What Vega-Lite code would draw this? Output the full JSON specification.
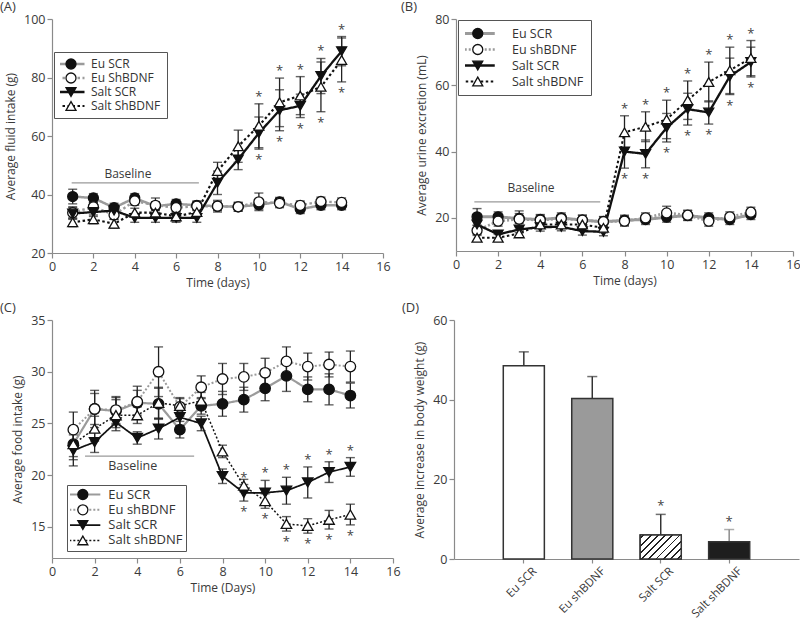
{
"$schema": "https://vega.github.io/schema/vega-lite/v6.json",
"padding": {"left": 0, "top": 1, "right": 0, "bottom": 0},
"background": "white",
"config": {
  "font": "Open Sans",
  "view": {"stroke": null},
  "axis": {"grid": false, "domainColor": "#8a8a8a", "tickColor": "#8a8a8a", "domainWidth": 1.2, "tickWidth": 1.2, "tickSize": 5, "labelColor": "#3a3a3a", "titleColor": "#3a3a3a", "labelFontSize": 12.5, "titleFontSize": 12, "titleFontWeight": "normal", "labelPadding": 2, "titlePadding": 5, "labelFont": "Open Sans", "titleFont": "Open Sans", "labelFlush": false, "labelOverlap": false},
  "axisY": {"titlePadding": 6},
  "title": {"fontSize": 13, "fontWeight": "normal", "color": "#3a3a3a", "anchor": "start", "frame": "group", "font": "Open Sans"},
  "legend": {"labelFont": "Open Sans", "labelColor": "#333333"}
},
"datasets": {
  "A": [
    {"d":1,"g":"Eu SCR","m":39.3,"lo":36.8,"hi":41.8},{"d":2,"g":"Eu SCR","m":38.8,"lo":37.3,"hi":40.3},{"d":3,"g":"Eu SCR","m":35.5,"lo":34,"hi":37},{"d":4,"g":"Eu SCR","m":38.8,"lo":37.3,"hi":40.3},{"d":5,"g":"Eu SCR","m":36,"lo":34.5,"hi":37.5},{"d":6,"g":"Eu SCR","m":36.8,"lo":35.3,"hi":38.3},{"d":7,"g":"Eu SCR","m":36.3,"lo":34.8,"hi":37.8},{"d":8,"g":"Eu SCR","m":36,"lo":34.5,"hi":37.5},{"d":9,"g":"Eu SCR","m":35.8,"lo":34.3,"hi":37.3},{"d":10,"g":"Eu SCR","m":36.5,"lo":35,"hi":38},{"d":11,"g":"Eu SCR","m":37.5,"lo":36,"hi":39},{"d":12,"g":"Eu SCR","m":35,"lo":33.5,"hi":36.5},{"d":13,"g":"Eu SCR","m":36.3,"lo":34.8,"hi":37.8},{"d":14,"g":"Eu SCR","m":36.3,"lo":34.8,"hi":37.8},
    {"d":1,"g":"Eu ShBDNF","m":33.8,"lo":31.8,"hi":35.8},{"d":2,"g":"Eu ShBDNF","m":35.8,"lo":34.3,"hi":37.3},{"d":3,"g":"Eu ShBDNF","m":33,"lo":31.5,"hi":34.5},{"d":4,"g":"Eu ShBDNF","m":37.8,"lo":36.3,"hi":39.3},{"d":5,"g":"Eu ShBDNF","m":36.3,"lo":33.8,"hi":38.8},{"d":6,"g":"Eu ShBDNF","m":35.5,"lo":34,"hi":37},{"d":7,"g":"Eu ShBDNF","m":36,"lo":34.5,"hi":37.5},{"d":8,"g":"Eu ShBDNF","m":36,"lo":34,"hi":38},{"d":9,"g":"Eu ShBDNF","m":35.8,"lo":34.3,"hi":37.3},{"d":10,"g":"Eu ShBDNF","m":37.5,"lo":34.5,"hi":40.5},{"d":11,"g":"Eu ShBDNF","m":37,"lo":35.5,"hi":38.5},{"d":12,"g":"Eu ShBDNF","m":36.3,"lo":34.8,"hi":37.8},{"d":13,"g":"Eu ShBDNF","m":37.6,"lo":36.1,"hi":39.1},{"d":14,"g":"Eu ShBDNF","m":37.3,"lo":35.8,"hi":38.8},
    {"d":1,"g":"Salt SCR","m":33.5,"lo":31.5,"hi":35.5},{"d":2,"g":"Salt SCR","m":34,"lo":32.5,"hi":35.5},{"d":3,"g":"Salt SCR","m":34.5,"lo":33,"hi":36},{"d":4,"g":"Salt SCR","m":32,"lo":30.5,"hi":33.5},{"d":5,"g":"Salt SCR","m":32,"lo":30.5,"hi":33.5},{"d":6,"g":"Salt SCR","m":32,"lo":30.5,"hi":33.5},{"d":7,"g":"Salt SCR","m":32,"lo":30.5,"hi":33.5},{"d":8,"g":"Salt SCR","m":44,"lo":40,"hi":48},{"d":9,"g":"Salt SCR","m":52,"lo":48.5,"hi":55.5},{"d":10,"g":"Salt SCR","m":61,"lo":55.5,"hi":66.5,"dn":1},{"d":11,"g":"Salt SCR","m":68.8,"lo":61.8,"hi":75.8,"dn":1},{"d":12,"g":"Salt SCR","m":70.3,"lo":66.3,"hi":74.3,"dn":1},{"d":13,"g":"Salt SCR","m":80.5,"lo":74.5,"hi":86.5,"up":1},{"d":14,"g":"Salt SCR","m":89,"lo":84,"hi":94,"up":1},
    {"d":1,"g":"Salt ShBDNF","m":30.5,"lo":29,"hi":32},{"d":2,"g":"Salt ShBDNF","m":31.5,"lo":30,"hi":33},{"d":3,"g":"Salt ShBDNF","m":30,"lo":28.5,"hi":31.5},{"d":4,"g":"Salt ShBDNF","m":33.8,"lo":32.3,"hi":35.3},{"d":5,"g":"Salt ShBDNF","m":33.8,"lo":32.3,"hi":35.3},{"d":6,"g":"Salt ShBDNF","m":32.5,"lo":31,"hi":34},{"d":7,"g":"Salt ShBDNF","m":34,"lo":32.5,"hi":35.5},{"d":8,"g":"Salt ShBDNF","m":48,"lo":45,"hi":51},{"d":9,"g":"Salt ShBDNF","m":56.5,"lo":51,"hi":62},{"d":10,"g":"Salt ShBDNF","m":63.5,"lo":56,"hi":71,"up":1},{"d":11,"g":"Salt ShBDNF","m":71.5,"lo":63.2,"hi":79.8,"up":1},{"d":12,"g":"Salt ShBDNF","m":73.8,"lo":67.3,"hi":80.3,"up":1},{"d":13,"g":"Salt ShBDNF","m":76.8,"lo":68.3,"hi":85.3,"dn":1},{"d":14,"g":"Salt ShBDNF","m":86,"lo":78.5,"hi":93.5,"dn":1}
  ],
  "B": [
    {"d":1,"g":"Eu SCR","m":20.3,"lo":17.8,"hi":22.8},{"d":2,"g":"Eu SCR","m":20.3,"lo":18.8,"hi":21.8},{"d":3,"g":"Eu SCR","m":19.8,"lo":18.3,"hi":21.3},{"d":4,"g":"Eu SCR","m":19.5,"lo":18,"hi":21},{"d":5,"g":"Eu SCR","m":20,"lo":18.5,"hi":21.5},{"d":6,"g":"Eu SCR","m":19.3,"lo":17.8,"hi":20.8},{"d":7,"g":"Eu SCR","m":18.8,"lo":17.3,"hi":20.3},{"d":8,"g":"Eu SCR","m":19.3,"lo":17.8,"hi":20.8},{"d":9,"g":"Eu SCR","m":19.5,"lo":18,"hi":21},{"d":10,"g":"Eu SCR","m":20.2,"lo":18.7,"hi":21.7},{"d":11,"g":"Eu SCR","m":20.7,"lo":19.2,"hi":22.2},{"d":12,"g":"Eu SCR","m":20,"lo":18.5,"hi":21.5},{"d":13,"g":"Eu SCR","m":19.5,"lo":18,"hi":21},{"d":14,"g":"Eu SCR","m":21,"lo":19.5,"hi":22.5},
    {"d":1,"g":"Eu shBDNF","m":16.2,"lo":14.7,"hi":17.7},{"d":2,"g":"Eu shBDNF","m":19,"lo":17.5,"hi":20.5},{"d":3,"g":"Eu shBDNF","m":19.6,"lo":17.1,"hi":22.1},{"d":4,"g":"Eu shBDNF","m":19.3,"lo":17.8,"hi":20.8},{"d":5,"g":"Eu shBDNF","m":19.8,"lo":18.6,"hi":21},{"d":6,"g":"Eu shBDNF","m":19.3,"lo":17.8,"hi":20.8},{"d":7,"g":"Eu shBDNF","m":18.9,"lo":17.4,"hi":20.4},{"d":8,"g":"Eu shBDNF","m":19,"lo":17.5,"hi":20.5},{"d":9,"g":"Eu shBDNF","m":20,"lo":18.5,"hi":21.5},{"d":10,"g":"Eu shBDNF","m":21.5,"lo":19.5,"hi":23.5},{"d":11,"g":"Eu shBDNF","m":20.8,"lo":19.3,"hi":22.3},{"d":12,"g":"Eu shBDNF","m":19,"lo":17.5,"hi":20.5},{"d":13,"g":"Eu shBDNF","m":20.3,"lo":18.8,"hi":21.8},{"d":14,"g":"Eu shBDNF","m":21.7,"lo":20.2,"hi":23.2},
    {"d":1,"g":"Salt SCR","m":18,"lo":16.5,"hi":19.5},{"d":2,"g":"Salt SCR","m":15,"lo":14,"hi":16},{"d":3,"g":"Salt SCR","m":16.5,"lo":15.5,"hi":17.5},{"d":4,"g":"Salt SCR","m":17.2,"lo":16,"hi":18.4},{"d":5,"g":"Salt SCR","m":17.3,"lo":16.1,"hi":18.5},{"d":6,"g":"Salt SCR","m":16,"lo":14.8,"hi":17.2},{"d":7,"g":"Salt SCR","m":15.8,"lo":14.6,"hi":17},{"d":8,"g":"Salt SCR","m":40,"lo":35,"hi":45,"dn":1},{"d":9,"g":"Salt SCR","m":39.3,"lo":35.1,"hi":43.5,"dn":1},{"d":10,"g":"Salt SCR","m":47.2,"lo":42.9,"hi":51.5,"dn":1},{"d":11,"g":"Salt SCR","m":52.8,"lo":48,"hi":57.6,"dn":1},{"d":12,"g":"Salt SCR","m":51.8,"lo":48.3,"hi":55.3,"dn":1},{"d":13,"g":"Salt SCR","m":62.7,"lo":57.2,"hi":68.2,"dn":1},{"d":14,"g":"Salt SCR","m":67,"lo":62.5,"hi":71.5,"dn":1},
    {"d":1,"g":"Salt shBDNF","m":14,"lo":13,"hi":15},{"d":2,"g":"Salt shBDNF","m":14,"lo":13,"hi":15},{"d":3,"g":"Salt shBDNF","m":15.3,"lo":14.3,"hi":16.3},{"d":4,"g":"Salt shBDNF","m":18,"lo":17,"hi":19},{"d":5,"g":"Salt shBDNF","m":18,"lo":17,"hi":19},{"d":6,"g":"Salt shBDNF","m":18,"lo":17,"hi":19},{"d":7,"g":"Salt shBDNF","m":17,"lo":15.5,"hi":18.5},{"d":8,"g":"Salt shBDNF","m":45.8,"lo":40.8,"hi":50.8,"up":1},{"d":9,"g":"Salt shBDNF","m":47.5,"lo":43,"hi":52,"up":1},{"d":10,"g":"Salt shBDNF","m":49.7,"lo":43.9,"hi":55.5,"up":1},{"d":11,"g":"Salt shBDNF","m":55.5,"lo":49.7,"hi":61.3,"up":1},{"d":12,"g":"Salt shBDNF","m":61,"lo":55,"hi":67,"up":1},{"d":13,"g":"Salt shBDNF","m":64.5,"lo":57.5,"hi":71.5,"up":1},{"d":14,"g":"Salt shBDNF","m":68.2,"lo":62.9,"hi":73.5,"up":1}
  ],
  "C": [
    {"d":1,"g":"Eu SCR","m":23,"lo":21.5,"hi":24.5},{"d":2,"g":"Eu SCR","m":26.4,"lo":24.9,"hi":27.9},{"d":3,"g":"Eu SCR","m":26.2,"lo":24.9,"hi":27.5},{"d":4,"g":"Eu SCR","m":27,"lo":25.8,"hi":28.2},{"d":5,"g":"Eu SCR","m":26.9,"lo":25.4,"hi":28.4},{"d":6,"g":"Eu SCR","m":24.4,"lo":23.6,"hi":25.2},{"d":7,"g":"Eu SCR","m":26.7,"lo":25.9,"hi":27.5},{"d":8,"g":"Eu SCR","m":26.9,"lo":25.7,"hi":28.1},{"d":9,"g":"Eu SCR","m":27.3,"lo":26.1,"hi":28.5},{"d":10,"g":"Eu SCR","m":28.4,"lo":27.2,"hi":29.6},{"d":11,"g":"Eu SCR","m":29.6,"lo":28.1,"hi":31.1},{"d":12,"g":"Eu SCR","m":28.3,"lo":27.1,"hi":29.5},{"d":13,"g":"Eu SCR","m":28.3,"lo":26.8,"hi":29.8},{"d":14,"g":"Eu SCR","m":27.7,"lo":26.5,"hi":28.9},
    {"d":1,"g":"Eu shBDNF","m":24.4,"lo":22.7,"hi":26.1},{"d":2,"g":"Eu shBDNF","m":26.4,"lo":24.6,"hi":28.2},{"d":3,"g":"Eu shBDNF","m":26.3,"lo":25,"hi":27.6},{"d":4,"g":"Eu shBDNF","m":27.1,"lo":25.6,"hi":28.6},{"d":5,"g":"Eu shBDNF","m":30,"lo":27.6,"hi":32.4},{"d":6,"g":"Eu shBDNF","m":26.6,"lo":25.7,"hi":27.5},{"d":7,"g":"Eu shBDNF","m":28.5,"lo":27.4,"hi":29.6},{"d":8,"g":"Eu shBDNF","m":29.3,"lo":27.8,"hi":30.8},{"d":9,"g":"Eu shBDNF","m":29.5,"lo":28.2,"hi":30.8},{"d":10,"g":"Eu shBDNF","m":29.9,"lo":28.5,"hi":31.3},{"d":11,"g":"Eu shBDNF","m":31,"lo":29.6,"hi":32.4},{"d":12,"g":"Eu shBDNF","m":30.5,"lo":29.2,"hi":31.8},{"d":13,"g":"Eu shBDNF","m":30.7,"lo":29.5,"hi":31.9},{"d":14,"g":"Eu shBDNF","m":30.5,"lo":29,"hi":32},
    {"d":1,"g":"Salt SCR","m":22.4,"lo":20.9,"hi":23.9},{"d":2,"g":"Salt SCR","m":23.2,"lo":22.2,"hi":24.2},{"d":3,"g":"Salt SCR","m":25.1,"lo":24.6,"hi":25.6},{"d":4,"g":"Salt SCR","m":23.6,"lo":23,"hi":24.2},{"d":5,"g":"Salt SCR","m":24.5,"lo":23.5,"hi":25.5},{"d":6,"g":"Salt SCR","m":25.6,"lo":24.8,"hi":26.4},{"d":7,"g":"Salt SCR","m":25,"lo":24.3,"hi":25.7},{"d":8,"g":"Salt SCR","m":19.9,"lo":19.2,"hi":20.6},{"d":9,"g":"Salt SCR","m":18.3,"lo":17.5,"hi":19.1,"up":1,"dn":1},{"d":10,"g":"Salt SCR","m":18.3,"lo":17.1,"hi":19.5,"up":1},{"d":11,"g":"Salt SCR","m":18.5,"lo":17.2,"hi":19.8,"up":1},{"d":12,"g":"Salt SCR","m":19.3,"lo":17.8,"hi":20.8,"up":1},{"d":13,"g":"Salt SCR","m":20.3,"lo":19.3,"hi":21.3,"up":1},{"d":14,"g":"Salt SCR","m":20.8,"lo":19.9,"hi":21.7,"up":1},
    {"d":1,"g":"Salt shBDNF","m":23,"lo":21.8,"hi":24.2},{"d":2,"g":"Salt shBDNF","m":24.5,"lo":23.3,"hi":25.7},{"d":3,"g":"Salt shBDNF","m":25.8,"lo":24.3,"hi":27.3},{"d":4,"g":"Salt shBDNF","m":25.8,"lo":25,"hi":26.6},{"d":5,"g":"Salt shBDNF","m":27,"lo":25.5,"hi":28.5},{"d":6,"g":"Salt shBDNF","m":26.7,"lo":26,"hi":27.4},{"d":7,"g":"Salt shBDNF","m":27.2,"lo":26.4,"hi":28},{"d":8,"g":"Salt shBDNF","m":22.3,"lo":21.7,"hi":22.9},{"d":9,"g":"Salt shBDNF","m":19,"lo":18.4,"hi":19.6},{"d":10,"g":"Salt shBDNF","m":17.5,"lo":16.8,"hi":18.2,"dn":1},{"d":11,"g":"Salt shBDNF","m":15.3,"lo":14.6,"hi":16,"dn":1},{"d":12,"g":"Salt shBDNF","m":15.1,"lo":14.4,"hi":15.8,"dn":1},{"d":13,"g":"Salt shBDNF","m":15.7,"lo":14.8,"hi":16.6,"dn":1},{"d":14,"g":"Salt shBDNF","m":16.2,"lo":15.2,"hi":17.2,"dn":1}
  ],
  "D": [
    {"g":"Eu SCR","m":48.5,"hi":52},{"g":"Eu shBDNF","m":40.3,"hi":45.8},{"g":"Salt SCR","m":6,"hi":11.2,"up":1},{"g":"Salt shBDNF","m":4.3,"hi":7.4,"up":1}
  ],
  "baseA": [{"start":0.95,"end":7.1,"level":44,"mid":3.67,"label":"Baseline"}],
  "baseB": [{"start":0.87,"end":6.85,"level":24.8,"mid":3.56,"label":"Baseline"}],
  "baseC": [{"start":1.55,"end":6.67,"level":21.85,"mid":3.79,"label":"Baseline"}]
},
"spacing": 13,
"resolve": {"scale": {"color": "independent", "fill": "independent", "stroke": "independent", "shape": "independent", "strokeDash": "independent", "strokeWidth": "independent"}, "legend": {"color": "independent", "fill": "independent", "stroke": "independent", "shape": "independent", "strokeDash": "independent", "strokeWidth": "independent"}},
"vconcat": [
 {"spacing": 10,
  "resolve": {"scale": {"color": "independent", "fill": "independent", "stroke": "independent", "shape": "independent", "strokeDash": "independent", "strokeWidth": "independent"}, "legend": {"color": "independent", "fill": "independent", "stroke": "independent", "shape": "independent", "strokeDash": "independent", "strokeWidth": "independent"}},
  "hconcat": [
  {
   "width": 331, "height": 234,
   "title": {"text": "(A)", "dx": -52, "offset": -1},
   "layer": [
    {"data": {"name": "baseA"}, "mark": {"type": "rule", "color": "#9a9a9a", "strokeWidth": 1.2}, "encoding": {"x": {"field": "start", "type": "quantitative"}, "x2": {"field": "end"}, "y": {"field": "level", "type": "quantitative"}}},
    {"data": {"name": "baseA"}, "mark": {"type": "text", "dy": -9, "fontSize": 12, "color": "#3a3a3a"}, "encoding": {"x": {"field": "mid", "type": "quantitative"}, "y": {"field": "level", "type": "quantitative"}, "text": {"field": "label"}}},
    {"data": {"name": "A"}, "mark": {"type": "line"}, "encoding": {
      "x": {"field": "d", "type": "quantitative", "scale": {"domain": [0, 16], "nice": false}, "axis": {"values": [0,2,4,6,8,10,12,14,16], "title": "Time (days)"}},
      "y": {"field": "m", "type": "quantitative", "scale": {"domain": [20, 100], "nice": false, "zero": false}, "axis": {"values": [20,40,60,80,100], "title": "Average fluid intake (g)"}},
      "color": {"field": "g", "type": "nominal", "scale": {"domain": ["Eu SCR","Eu ShBDNF","Salt SCR","Salt ShBDNF"], "range": ["#9b9b9b","#9b9b9b","#111111","#111111"]}, "legend": {"orient": "none", "legendX": 2, "legendY": 33, "direction": "vertical", "title": null, "symbolType": "M-3,0H3", "symbolSize": 81, "symbolOffset": 5, "labelOffset": 14, "padding": 6, "rowPadding": 2, "clipHeight": 12, "labelFontSize": 12, "labelOpacity": 0}},
      "strokeDash": {"field": "g", "type": "nominal", "scale": {"domain": ["Eu SCR","Eu ShBDNF","Salt SCR","Salt ShBDNF"], "range": [[1,0],[2.5,2.5],[1,0],[2.5,2.5]]}, "legend": {"orient": "none", "legendX": 2, "legendY": 33, "direction": "vertical", "title": null, "symbolType": "M-3,0H3", "symbolSize": 81, "symbolOffset": 5, "labelOffset": 14, "padding": 6, "rowPadding": 2, "clipHeight": 12, "labelFontSize": 12, "labelOpacity": 0}},
      "strokeWidth": {"field": "g", "type": "nominal", "scale": {"domain": ["Eu SCR","Eu ShBDNF","Salt SCR","Salt ShBDNF"], "range": [2.5, 2.2, 3, 3]}, "legend": {"orient": "none", "legendX": 2, "legendY": 33, "direction": "vertical", "title": null, "symbolType": "M-3,0H3", "symbolSize": 81, "symbolOffset": 5, "labelOffset": 14, "padding": 6, "rowPadding": 2, "clipHeight": 12, "labelFontSize": 12, "labelOpacity": 0}}
    }},
    {"data": {"name": "A"}, "mark": {"type": "rule", "color": "#222222", "strokeWidth": 1.3}, "encoding": {"x": {"field": "d", "type": "quantitative"}, "y": {"field": "lo", "type": "quantitative"}, "y2": {"field": "hi"}}},
    {"data": {"name": "A"}, "mark": {"type": "tick", "orient": "horizontal", "size": 9, "thickness": 1.4, "color": "#222222"}, "encoding": {"x": {"field": "d", "type": "quantitative"}, "y": {"field": "hi", "type": "quantitative"}}},
    {"data": {"name": "A"}, "mark": {"type": "tick", "orient": "horizontal", "size": 9, "thickness": 1.4, "color": "#222222"}, "encoding": {"x": {"field": "d", "type": "quantitative"}, "y": {"field": "lo", "type": "quantitative"}}},
    {"data": {"name": "A"}, "mark": {"type": "point", "filled": true, "size": 100, "strokeWidth": 1.3, "opacity": 1}, "encoding": {
      "x": {"field": "d", "type": "quantitative"}, "y": {"field": "m", "type": "quantitative"},
      "fill": {"field": "g", "type": "nominal", "scale": {"range": ["#111111","#ffffff","#111111","#ffffff"]}, "legend": {"orient": "none", "legendX": 2, "legendY": 33, "direction": "vertical", "title": null, "symbolSize": 100, "symbolOffset": 5, "labelOffset": 14, "padding": 6, "rowPadding": 2, "clipHeight": 12, "labelFontSize": 12, "strokeColor": "#555555", "symbolStrokeWidth": 1.3}},
      "stroke": {"field": "g", "type": "nominal", "scale": {"range": ["#111111","#111111","#111111","#111111"]}, "legend": {"orient": "none", "legendX": 2, "legendY": 33, "direction": "vertical", "title": null, "symbolSize": 100, "symbolOffset": 5, "labelOffset": 14, "padding": 6, "rowPadding": 2, "clipHeight": 12, "labelFontSize": 12, "strokeColor": "#555555", "symbolStrokeWidth": 1.3}},
      "shape": {"field": "g", "type": "nominal", "scale": {"range": ["circle","circle","triangle-down","triangle-up"]}, "legend": {"orient": "none", "legendX": 2, "legendY": 33, "direction": "vertical", "title": null, "symbolSize": 100, "symbolOffset": 5, "labelOffset": 14, "padding": 6, "rowPadding": 2, "clipHeight": 12, "labelFontSize": 12, "strokeColor": "#555555", "symbolStrokeWidth": 1.3}}
    }},
    {"data": {"name": "A"}, "transform": [{"filter": "datum.up == 1"}], "mark": {"type": "text", "text": "*", "dy": -7, "fontSize": 13, "color": "#444444"}, "encoding": {"x": {"field": "d", "type": "quantitative"}, "y": {"field": "hi", "type": "quantitative"}}},
    {"data": {"name": "A"}, "transform": [{"filter": "datum.dn == 1"}], "mark": {"type": "text", "text": "*", "dy": 11, "fontSize": 13, "color": "#444444"}, "encoding": {"x": {"field": "d", "type": "quantitative"}, "y": {"field": "lo", "type": "quantitative"}}}
   ]
  },
  {
   "width": 337, "height": 232,
   "title": {"text": "(B)", "dx": -55, "offset": -1},
   "layer": [
    {"data": {"name": "baseB"}, "mark": {"type": "rule", "color": "#9a9a9a", "strokeWidth": 1.2}, "encoding": {"x": {"field": "start", "type": "quantitative"}, "x2": {"field": "end"}, "y": {"field": "level", "type": "quantitative"}}},
    {"data": {"name": "baseB"}, "mark": {"type": "text", "dy": -14, "fontSize": 12, "color": "#3a3a3a"}, "encoding": {"x": {"field": "mid", "type": "quantitative"}, "y": {"field": "level", "type": "quantitative"}, "text": {"field": "label"}}},
    {"data": {"name": "B"}, "mark": {"type": "line"}, "encoding": {
      "x": {"field": "d", "type": "quantitative", "scale": {"domain": [0, 16], "nice": false}, "axis": {"values": [0,2,4,6,8,10,12,14,16], "title": "Time (days)"}},
      "y": {"field": "m", "type": "quantitative", "scale": {"domain": [10, 80], "nice": false, "zero": false}, "axis": {"values": [20,40,60,80], "title": "Average urine excretion (mL)"}},
      "color": {"field": "g", "type": "nominal", "scale": {"domain": ["Eu SCR","Eu shBDNF","Salt SCR","Salt shBDNF"], "range": ["#9b9b9b","#9b9b9b","#111111","#111111"]}, "legend": {"orient": "none", "legendX": 2, "legendY": 1, "direction": "vertical", "title": null, "symbolType": "M-3.78,0H3.78", "symbolSize": 81, "symbolOffset": 6.5, "labelOffset": 28, "padding": 7, "rowPadding": 3, "clipHeight": 13, "labelFontSize": 12.5, "labelOpacity": 0}},
      "strokeDash": {"field": "g", "type": "nominal", "scale": {"domain": ["Eu SCR","Eu shBDNF","Salt SCR","Salt shBDNF"], "range": [[1,0],[2,2],[1,0],[2.5,2.5]]}, "legend": {"orient": "none", "legendX": 2, "legendY": 1, "direction": "vertical", "title": null, "symbolType": "M-3.78,0H3.78", "symbolSize": 81, "symbolOffset": 6.5, "labelOffset": 28, "padding": 7, "rowPadding": 3, "clipHeight": 13, "labelFontSize": 12.5, "labelOpacity": 0}},
      "strokeWidth": {"field": "g", "type": "nominal", "scale": {"domain": ["Eu SCR","Eu shBDNF","Salt SCR","Salt shBDNF"], "range": [3, 2, 3, 3]}, "legend": {"orient": "none", "legendX": 2, "legendY": 1, "direction": "vertical", "title": null, "symbolType": "M-3.78,0H3.78", "symbolSize": 81, "symbolOffset": 6.5, "labelOffset": 28, "padding": 7, "rowPadding": 3, "clipHeight": 13, "labelFontSize": 12.5, "labelOpacity": 0}}
    }},
    {"data": {"name": "B"}, "mark": {"type": "rule", "color": "#222222", "strokeWidth": 1.3}, "encoding": {"x": {"field": "d", "type": "quantitative"}, "y": {"field": "lo", "type": "quantitative"}, "y2": {"field": "hi"}}},
    {"data": {"name": "B"}, "mark": {"type": "tick", "orient": "horizontal", "size": 9, "thickness": 1.4, "color": "#222222"}, "encoding": {"x": {"field": "d", "type": "quantitative"}, "y": {"field": "hi", "type": "quantitative"}}},
    {"data": {"name": "B"}, "mark": {"type": "tick", "orient": "horizontal", "size": 9, "thickness": 1.4, "color": "#222222"}, "encoding": {"x": {"field": "d", "type": "quantitative"}, "y": {"field": "lo", "type": "quantitative"}}},
    {"data": {"name": "B"}, "mark": {"type": "point", "filled": true, "size": 100, "strokeWidth": 1.3, "opacity": 1}, "encoding": {
      "x": {"field": "d", "type": "quantitative"}, "y": {"field": "m", "type": "quantitative"},
      "fill": {"field": "g", "type": "nominal", "scale": {"range": ["#111111","#ffffff","#111111","#ffffff"]}, "legend": {"orient": "none", "legendX": 2, "legendY": 1, "direction": "vertical", "title": null, "symbolSize": 100, "symbolOffset": 6.5, "labelOffset": 28, "padding": 7, "rowPadding": 3, "clipHeight": 13, "labelFontSize": 12.5, "strokeColor": "#555555", "symbolStrokeWidth": 1.3}},
      "stroke": {"field": "g", "type": "nominal", "scale": {"range": ["#111111","#111111","#111111","#111111"]}, "legend": {"orient": "none", "legendX": 2, "legendY": 1, "direction": "vertical", "title": null, "symbolSize": 100, "symbolOffset": 6.5, "labelOffset": 28, "padding": 7, "rowPadding": 3, "clipHeight": 13, "labelFontSize": 12.5, "strokeColor": "#555555", "symbolStrokeWidth": 1.3}},
      "shape": {"field": "g", "type": "nominal", "scale": {"range": ["circle","circle","triangle-down","triangle-up"]}, "legend": {"orient": "none", "legendX": 2, "legendY": 1, "direction": "vertical", "title": null, "symbolSize": 100, "symbolOffset": 6.5, "labelOffset": 28, "padding": 7, "rowPadding": 3, "clipHeight": 13, "labelFontSize": 12.5, "strokeColor": "#555555", "symbolStrokeWidth": 1.3}}
    }},
    {"data": {"name": "B"}, "transform": [{"filter": "datum.up == 1"}], "mark": {"type": "text", "text": "*", "dy": -7, "fontSize": 13, "color": "#444444"}, "encoding": {"x": {"field": "d", "type": "quantitative"}, "y": {"field": "hi", "type": "quantitative"}}},
    {"data": {"name": "B"}, "transform": [{"filter": "datum.dn == 1"}], "mark": {"type": "text", "text": "*", "dy": 11, "fontSize": 13, "color": "#444444"}, "encoding": {"x": {"field": "d", "type": "quantitative"}, "y": {"field": "lo", "type": "quantitative"}}}
   ]
  }
 ]},
 {"spacing": 1,
  "resolve": {"scale": {"color": "independent", "fill": "independent", "stroke": "independent", "shape": "independent", "strokeDash": "independent", "strokeWidth": "independent"}, "legend": {"color": "independent", "fill": "independent", "stroke": "independent", "shape": "independent", "strokeDash": "independent", "strokeWidth": "independent"}},
  "hconcat": [
  {
   "width": 341, "height": 238,
   "title": {"text": "(C)", "dx": -52, "offset": -1},
   "layer": [
    {"data": {"name": "baseC"}, "mark": {"type": "rule", "color": "#9a9a9a", "strokeWidth": 1.2}, "encoding": {"x": {"field": "start", "type": "quantitative"}, "x2": {"field": "end"}, "y": {"field": "level", "type": "quantitative"}}},
    {"data": {"name": "baseC"}, "mark": {"type": "text", "dy": 10, "fontSize": 12.5, "color": "#3a3a3a"}, "encoding": {"x": {"field": "mid", "type": "quantitative"}, "y": {"field": "level", "type": "quantitative"}, "text": {"field": "label"}}},
    {"data": {"name": "C"}, "mark": {"type": "line"}, "encoding": {
      "x": {"field": "d", "type": "quantitative", "scale": {"domain": [0, 16], "nice": false}, "axis": {"values": [0,2,4,6,8,10,12,14,16], "title": "Time (Days)"}},
      "y": {"field": "m", "type": "quantitative", "scale": {"domain": [12, 35], "nice": false, "zero": false}, "axis": {"values": [15,20,25,30,35], "title": "Average food intake (g)"}},
      "color": {"field": "g", "type": "nominal", "scale": {"domain": ["Eu SCR","Eu shBDNF","Salt SCR","Salt shBDNF"], "range": ["#9b9b9b","#9b9b9b","#111111","#111111"]}, "legend": {"orient": "none", "legendX": 15, "legendY": 165, "direction": "vertical", "title": null, "symbolType": "M-3.89,0H3.89", "symbolSize": 81, "symbolOffset": 6.33, "labelOffset": 19, "padding": 3, "rowPadding": 1.3, "clipHeight": 13, "labelFontSize": 13, "labelOpacity": 0}},
      "strokeDash": {"field": "g", "type": "nominal", "scale": {"domain": ["Eu SCR","Eu shBDNF","Salt SCR","Salt shBDNF"], "range": [[1,0],[2,2],[1,0],[2,2]]}, "legend": {"orient": "none", "legendX": 15, "legendY": 165, "direction": "vertical", "title": null, "symbolType": "M-3.89,0H3.89", "symbolSize": 81, "symbolOffset": 6.33, "labelOffset": 19, "padding": 3, "rowPadding": 1.3, "clipHeight": 13, "labelFontSize": 13, "labelOpacity": 0}},
      "strokeWidth": {"field": "g", "type": "nominal", "scale": {"domain": ["Eu SCR","Eu shBDNF","Salt SCR","Salt shBDNF"], "range": [2.2, 1.5, 2.2, 2]}, "legend": {"orient": "none", "legendX": 15, "legendY": 165, "direction": "vertical", "title": null, "symbolType": "M-3.89,0H3.89", "symbolSize": 81, "symbolOffset": 6.33, "labelOffset": 19, "padding": 3, "rowPadding": 1.3, "clipHeight": 13, "labelFontSize": 13, "labelOpacity": 0}}
    }},
    {"data": {"name": "C"}, "mark": {"type": "rule", "color": "#222222", "strokeWidth": 1.3}, "encoding": {"x": {"field": "d", "type": "quantitative"}, "y": {"field": "lo", "type": "quantitative"}, "y2": {"field": "hi"}}},
    {"data": {"name": "C"}, "mark": {"type": "tick", "orient": "horizontal", "size": 9, "thickness": 1.4, "color": "#222222"}, "encoding": {"x": {"field": "d", "type": "quantitative"}, "y": {"field": "hi", "type": "quantitative"}}},
    {"data": {"name": "C"}, "mark": {"type": "tick", "orient": "horizontal", "size": 9, "thickness": 1.4, "color": "#222222"}, "encoding": {"x": {"field": "d", "type": "quantitative"}, "y": {"field": "lo", "type": "quantitative"}}},
    {"data": {"name": "C"}, "mark": {"type": "point", "filled": true, "size": 110, "strokeWidth": 1.3, "opacity": 1}, "encoding": {
      "x": {"field": "d", "type": "quantitative"}, "y": {"field": "m", "type": "quantitative"},
      "fill": {"field": "g", "type": "nominal", "scale": {"range": ["#111111","#ffffff","#111111","#ffffff"]}, "legend": {"orient": "none", "legendX": 15, "legendY": 165, "direction": "vertical", "title": null, "symbolSize": 100, "symbolOffset": 6.33, "labelOffset": 19, "padding": 3, "rowPadding": 1.3, "clipHeight": 13, "labelFontSize": 13, "strokeColor": "#555555", "symbolStrokeWidth": 1.3}},
      "stroke": {"field": "g", "type": "nominal", "scale": {"range": ["#111111","#111111","#111111","#111111"]}, "legend": {"orient": "none", "legendX": 15, "legendY": 165, "direction": "vertical", "title": null, "symbolSize": 100, "symbolOffset": 6.33, "labelOffset": 19, "padding": 3, "rowPadding": 1.3, "clipHeight": 13, "labelFontSize": 13, "strokeColor": "#555555", "symbolStrokeWidth": 1.3}},
      "shape": {"field": "g", "type": "nominal", "scale": {"range": ["circle","circle","triangle-down","triangle-up"]}, "legend": {"orient": "none", "legendX": 15, "legendY": 165, "direction": "vertical", "title": null, "symbolSize": 100, "symbolOffset": 6.33, "labelOffset": 19, "padding": 3, "rowPadding": 1.3, "clipHeight": 13, "labelFontSize": 13, "strokeColor": "#555555", "symbolStrokeWidth": 1.3}}
    }},
    {"data": {"name": "C"}, "transform": [{"filter": "datum.up == 1"}], "mark": {"type": "text", "text": "*", "dy": -7, "fontSize": 13, "color": "#444444"}, "encoding": {"x": {"field": "d", "type": "quantitative"}, "y": {"field": "hi", "type": "quantitative"}}},
    {"data": {"name": "C"}, "transform": [{"filter": "datum.dn == 1"}], "mark": {"type": "text", "text": "*", "dy": 11, "fontSize": 13, "color": "#444444"}, "encoding": {"x": {"field": "d", "type": "quantitative"}, "y": {"field": "lo", "type": "quantitative"}}}
   ]
  },
  {
   "width": 345, "height": 239,
   "title": {"text": "(D)", "dx": -52, "offset": -1},
   "data": {"name": "D"},
   "encoding": {"x": {"field": "g", "type": "nominal", "sort": null, "scale": {"paddingInner": 0.4, "paddingOuter": 0.72}, "axis": {"title": null, "labelAngle": -45, "labelAlign": "right", "labelBaseline": "top", "labelFontSize": 11.5, "tickSize": 4, "labelOffset": 7}}},
   "layer": [
    {"mark": {"type": "rule", "strokeWidth": 1.5}, "encoding": {"y": {"field": "m", "type": "quantitative", "scale": {"domain": [0, 60], "nice": false}, "axis": {"values": [0,10,20,30,40,50,60], "title": "Average increase in body weight (g)"}}, "y2": {"field": "hi"}, "color": {"field": "g", "type": "nominal", "scale": {"range": ["#333333","#333333","#333333","#8c8c8c"]}, "legend": null}}},
    {"mark": {"type": "tick", "orient": "horizontal", "size": 10, "thickness": 1.5}, "encoding": {"y": {"field": "hi", "type": "quantitative"}, "color": {"field": "g", "type": "nominal", "legend": null}}},
    {"mark": {"type": "bar", "stroke": "#333333", "strokeWidth": 1.5}, "encoding": {"y": {"field": "m", "type": "quantitative"}, "fill": {"field": "g", "type": "nominal", "scale": {"range": ["#ffffff","#9a9a9a","#ffffff","#1e1e1e"]}, "legend": null}}},
    {"transform": [{"filter": "datum.g == 'Salt SCR'"}], "mark": {"type": "bar", "stroke": "#333333", "strokeWidth": 1.5, "fill": {"gradient": "linear", "x1": 0, "y1": 0, "x2": 1.1817, "y2": 0.6876, "stops": [
      {"offset": 0, "color": "#ffffff"},
      {"offset": 0.0416, "color": "#ffffff"},{"offset": 0.0416, "color": "#222222"},{"offset": 0.0696, "color": "#222222"},{"offset": 0.0696, "color": "#ffffff"},
      {"offset": 0.1527, "color": "#ffffff"},{"offset": 0.1527, "color": "#222222"},{"offset": 0.1807, "color": "#222222"},{"offset": 0.1807, "color": "#ffffff"},
      {"offset": 0.2638, "color": "#ffffff"},{"offset": 0.2638, "color": "#222222"},{"offset": 0.2918, "color": "#222222"},{"offset": 0.2918, "color": "#ffffff"},
      {"offset": 0.3749, "color": "#ffffff"},{"offset": 0.3749, "color": "#222222"},{"offset": 0.4029, "color": "#222222"},{"offset": 0.4029, "color": "#ffffff"},
      {"offset": 0.486, "color": "#ffffff"},{"offset": 0.486, "color": "#222222"},{"offset": 0.514, "color": "#222222"},{"offset": 0.514, "color": "#ffffff"},
      {"offset": 0.5971, "color": "#ffffff"},{"offset": 0.5971, "color": "#222222"},{"offset": 0.6251, "color": "#222222"},{"offset": 0.6251, "color": "#ffffff"},
      {"offset": 0.7082, "color": "#ffffff"},{"offset": 0.7082, "color": "#222222"},{"offset": 0.7362, "color": "#222222"},{"offset": 0.7362, "color": "#ffffff"},
      {"offset": 0.8193, "color": "#ffffff"},{"offset": 0.8193, "color": "#222222"},{"offset": 0.8473, "color": "#222222"},{"offset": 0.8473, "color": "#ffffff"},
      {"offset": 0.9304, "color": "#ffffff"},{"offset": 0.9304, "color": "#222222"},{"offset": 0.9584, "color": "#222222"},{"offset": 0.9584, "color": "#ffffff"},
      {"offset": 1, "color": "#ffffff"}
    ]}}, "encoding": {"y": {"field": "m", "type": "quantitative"}}},
    {"transform": [{"filter": "datum.up == 1"}], "mark": {"type": "text", "text": "*", "dy": -8, "fontSize": 13, "color": "#444444"}, "encoding": {"y": {"field": "hi", "type": "quantitative"}}}
   ]
  }
 ]}
]
}
